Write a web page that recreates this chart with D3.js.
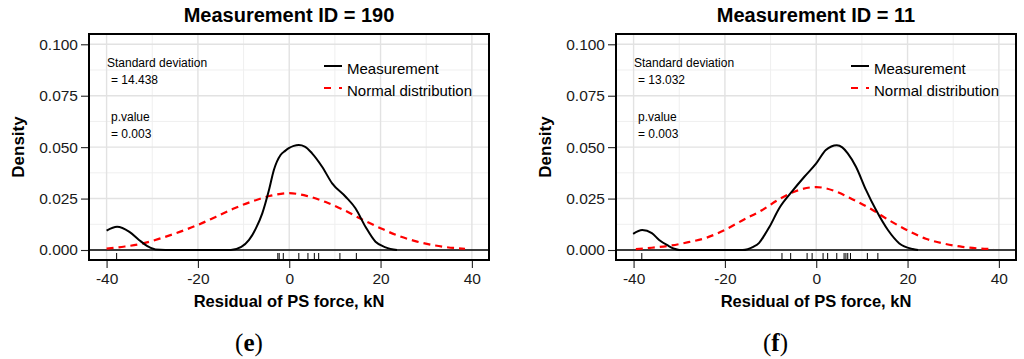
<!DOCTYPE html>
<html>
<head>
<meta charset="utf-8">
<script src="https://cdn.jsdelivr.net/npm/d3@7"></script>
<style>
  body { margin: 0; background: #fff; }
  svg { display: block; font-family: Arial, "Liberation Sans", sans-serif; }
</style>
</head>
<body>
<div id="chart"></div>
<script>
// ---- data ----
const yTicks = [0, 0.025, 0.05, 0.075, 0.1]
const yMinor = [0.0125, 0.0375, 0.0625, 0.0875]
const xTicks = [-40, -20, 0, 20, 40]
const xMinor = [-30, -10, 10, 30]

// panel (e), ID 190
const kdeX190 = [-40, -37.7, -35, -32.9, -31, -29.3, -25, -20, -15, -12.8, -10.5, -8.8, -7.3, -5.9, -4.45, -3.35, -1.9, -0.9, 0, 1, 2.1, 3.4, 5, 7.2, 9.4, 12.35, 14.5, 16.7, 18.9, 21.1, 23.6]
const kdeY190 = [0.0094, 0.0113, 0.0088, 0.0049, 0.0018, 0.0003, 0, 0, 0, 0, 0.0015, 0.0049, 0.0105, 0.0178, 0.029, 0.039, 0.0462, 0.0482, 0.0496, 0.0506, 0.051, 0.0503, 0.047, 0.0405, 0.0324, 0.0259, 0.0203, 0.0113, 0.004, 0.0013, 0]
const normX190 = [-40, -36, -32, -28, -24, -20, -16, -12, -8, -4, 0, 4, 8, 12, 16, 20, 24, 28, 32, 36, 38.5]
const normY190 = [0.0007, 0.0017, 0.0032, 0.0058, 0.0088, 0.0122, 0.0162, 0.0203, 0.0237, 0.0264, 0.0276, 0.0262, 0.0233, 0.0194, 0.0148, 0.0106, 0.0068, 0.0041, 0.0022, 0.001, 0.0006]
const rug190 = [-37.8, -2.5, -2.2, -1.3, 2.1, 4.1, 5.5, 6.45, 11.1, 14.7]

// panel (f), ID 11
const kdeX11 = [-40.1, -38.1, -36, -34.4, -32.5, -31.1, -30, -25, -20, -16.1, -15, -13.8, -12.5, -11.4, -10.3, -8.1, -5.2, -2.6, 0, 2.1, 3.3, 4.5, 5.7, 6.9, 8.7, 10.9, 13.1, 15.7, 18.2, 21.1, 22.3]
const kdeY11 = [0.0078, 0.0097, 0.0082, 0.0049, 0.0022, 0.0006, 0, 0, 0, 0, 0.0004, 0.0015, 0.0035, 0.007, 0.011, 0.0203, 0.0287, 0.0356, 0.0421, 0.0486, 0.0503, 0.0509, 0.0499, 0.047, 0.0405, 0.0292, 0.0194, 0.0097, 0.0032, 0.0005, 0]
const normX11 = [-39.5, -36, -32, -28, -24, -20, -16, -12, -8, -4, 0, 4, 8, 12, 16, 20, 24, 28, 32, 36, 38.8]
const normY11 = [0.0004, 0.0011, 0.0021, 0.0038, 0.006, 0.0098, 0.0146, 0.0192, 0.0248, 0.0290, 0.0306, 0.0287, 0.0246, 0.0199, 0.0144, 0.0095, 0.0055, 0.0031, 0.0015, 0.0007, 0.0004]
const rug11 = [-38.2, -7.5, -5.6, -2.0, -0.9, 1.5, 2.5, 4.5, 6.1, 6.5, 6.9, 7.5, 11.2, 13.5]

const panels = [
    { left: 89, title: 'Measurement ID = 190', sd: '14.438', pv: '0.003', letter: 'e', letterX: 249,
      kdeX: kdeX190, kdeY: kdeY190, normX: normX190, normY: normY190, rug: rug190 },
    { left: 616, title: 'Measurement ID = 11', sd: '13.032', pv: '0.003', letter: 'f', letterX: 775.5,
      kdeX: kdeX11, kdeY: kdeY11, normX: normX11, normY: normY11, rug: rug11 }
]

const svg = d3.select('#chart')
    .append('svg')
    .attr('width', 1024)
    .attr('height', 359)

const panelW = 400
const plotTop = 34
const plotBottom = 260

function drawPanel(p) {

    const x = d3.scaleLinear().domain([-43.85, 43.75]).range([p.left, p.left + panelW])
    const y = d3.scaleLinear().domain([-0.00486, 0.105]).range([plotBottom, plotTop])
    const g = svg.append('g')

    // grid
    g.selectAll('.vminor').data(xMinor).join('line')
        .attr('x1', d => x(d)).attr('x2', d => x(d))
        .attr('y1', plotTop).attr('y2', plotBottom)
        .attr('stroke', '#efefef').attr('stroke-width', 1)
    g.selectAll('.hminor').data(yMinor).join('line')
        .attr('y1', d => y(d)).attr('y2', d => y(d))
        .attr('x1', p.left).attr('x2', p.left + panelW)
        .attr('stroke', '#efefef').attr('stroke-width', 1)
    g.selectAll('.vmajor').data(xTicks).join('line')
        .attr('x1', d => x(d)).attr('x2', d => x(d))
        .attr('y1', plotTop).attr('y2', plotBottom)
        .attr('stroke', '#e2e2e2').attr('stroke-width', 1.4)
    g.selectAll('.hmajor').data(yTicks).join('line')
        .attr('y1', d => y(d)).attr('y2', d => y(d))
        .attr('x1', p.left).attr('x2', p.left + panelW)
        .attr('stroke', '#e2e2e2').attr('stroke-width', 1.4)

    // zero line
    g.append('line')
        .attr('x1', p.left).attr('x2', p.left + panelW)
        .attr('y1', y(0)).attr('y2', y(0))
        .attr('stroke', 'black').attr('stroke-width', 1.6)

    // normal curve + density
    const normPts = p.normX.map((v, i) => [v, p.normY[i]])
    const kdePts = p.kdeX.map((v, i) => [v, p.kdeY[i]])
    const line = d3.line().x(d => x(d[0])).y(d => y(d[1])).curve(d3.curveMonotoneX)

    g.append('path')
        .attr('d', line(normPts))
        .attr('fill', 'none')
        .attr('stroke', '#ff0000')
        .attr('stroke-width', 2.2)
        .attr('stroke-dasharray', '7,5')

    g.append('path')
        .attr('d', line(kdePts))
        .attr('fill', 'none')
        .attr('stroke', 'black')
        .attr('stroke-width', 2)

    // rug
    g.selectAll('.rug').data(p.rug).join('line')
        .attr('x1', d => x(d)).attr('x2', d => x(d))
        .attr('y1', plotBottom).attr('y2', plotBottom - 7)
        .attr('stroke', 'black').attr('stroke-width', 1)

    // border
    g.append('rect')
        .attr('x', p.left).attr('y', plotTop)
        .attr('width', panelW).attr('height', plotBottom - plotTop)
        .attr('fill', 'none').attr('stroke', 'black').attr('stroke-width', 2)

    // axes
    const yAxis = g.append('g')
        .attr('transform', `translate(${p.left - 1},0)`)
        .call(d3.axisLeft(y).tickValues(yTicks).tickFormat(d3.format('.3f')).tickSize(7).tickPadding(3))
    const xAxis = g.append('g')
        .attr('transform', `translate(0,${plotBottom + 1})`)
        .call(d3.axisBottom(x).tickValues(xTicks).tickFormat(d => d < 0 ? '-' + Math.abs(d) : d).tickSize(7).tickPadding(5))
    for (const a of [xAxis, yAxis]) {
        a.select('.domain').remove()
        a.selectAll('text').attr('font-size', 15.5).attr('fill', '#1a1a1a').attr('font-family', 'Arial, "Liberation Sans", sans-serif')
        a.selectAll('line').attr('stroke', '#222').attr('stroke-width', 1.1)
    }

    const cx = p.left + panelW / 2

    g.append('text')
        .attr('x', cx).attr('y', 22)
        .attr('text-anchor', 'middle')
        .attr('font-weight', 'bold').attr('font-size', 20)
        .text(p.title)

    g.append('text')
        .attr('x', cx).attr('y', 307)
        .attr('text-anchor', 'middle')
        .attr('font-weight', 'bold').attr('font-size', 16.5)
        .text('Residual of PS force, kN')

    g.append('text')
        .attr('transform', `translate(${p.left - 65},147) rotate(-90)`)
        .attr('text-anchor', 'middle')
        .attr('font-weight', 'bold').attr('font-size', 17)
        .text('Density')

    // stats annotation
    const ax = p.left + 18
    g.append('text').attr('x', ax).attr('y', 66.5).attr('font-size', 12).text('Standard deviation')
    g.append('text').attr('x', ax + 4).attr('y', 84).attr('font-size', 12).text('= ' + p.sd)
    g.append('text').attr('x', ax + 4).attr('y', 120.5).attr('font-size', 12).text('p.value')
    g.append('text').attr('x', ax + 4).attr('y', 137.5).attr('font-size', 12).text('= ' + p.pv)

    // legend
    const lx = p.left + 235
    g.append('line').attr('x1', lx).attr('x2', lx + 18).attr('y1', 66).attr('y2', 66)
        .attr('stroke', 'black').attr('stroke-width', 2)
    g.append('line').attr('x1', lx).attr('x2', lx + 18).attr('y1', 88).attr('y2', 88)
        .attr('stroke', '#ff0000').attr('stroke-width', 2.2).attr('stroke-dasharray', '7,8')
    g.append('text').attr('x', lx + 23).attr('y', 73.5).attr('font-size', 15).text('Measurement')
    g.append('text').attr('x', lx + 23).attr('y', 95.5).attr('font-size', 15).text('Normal distribution')

    // panel letter
    const lt = g.append('text')
        .attr('x', p.letterX).attr('y', 351)
        .attr('text-anchor', 'middle')
        .attr('font-family', '"Liberation Serif", "DejaVu Serif", serif')
        .attr('font-size', 25)
    lt.append('tspan').text('(')
    lt.append('tspan').attr('font-weight', 'bold').text(p.letter)
    lt.append('tspan').text(')')
}

panels.forEach(drawPanel)
</script>
</body>
</html>
